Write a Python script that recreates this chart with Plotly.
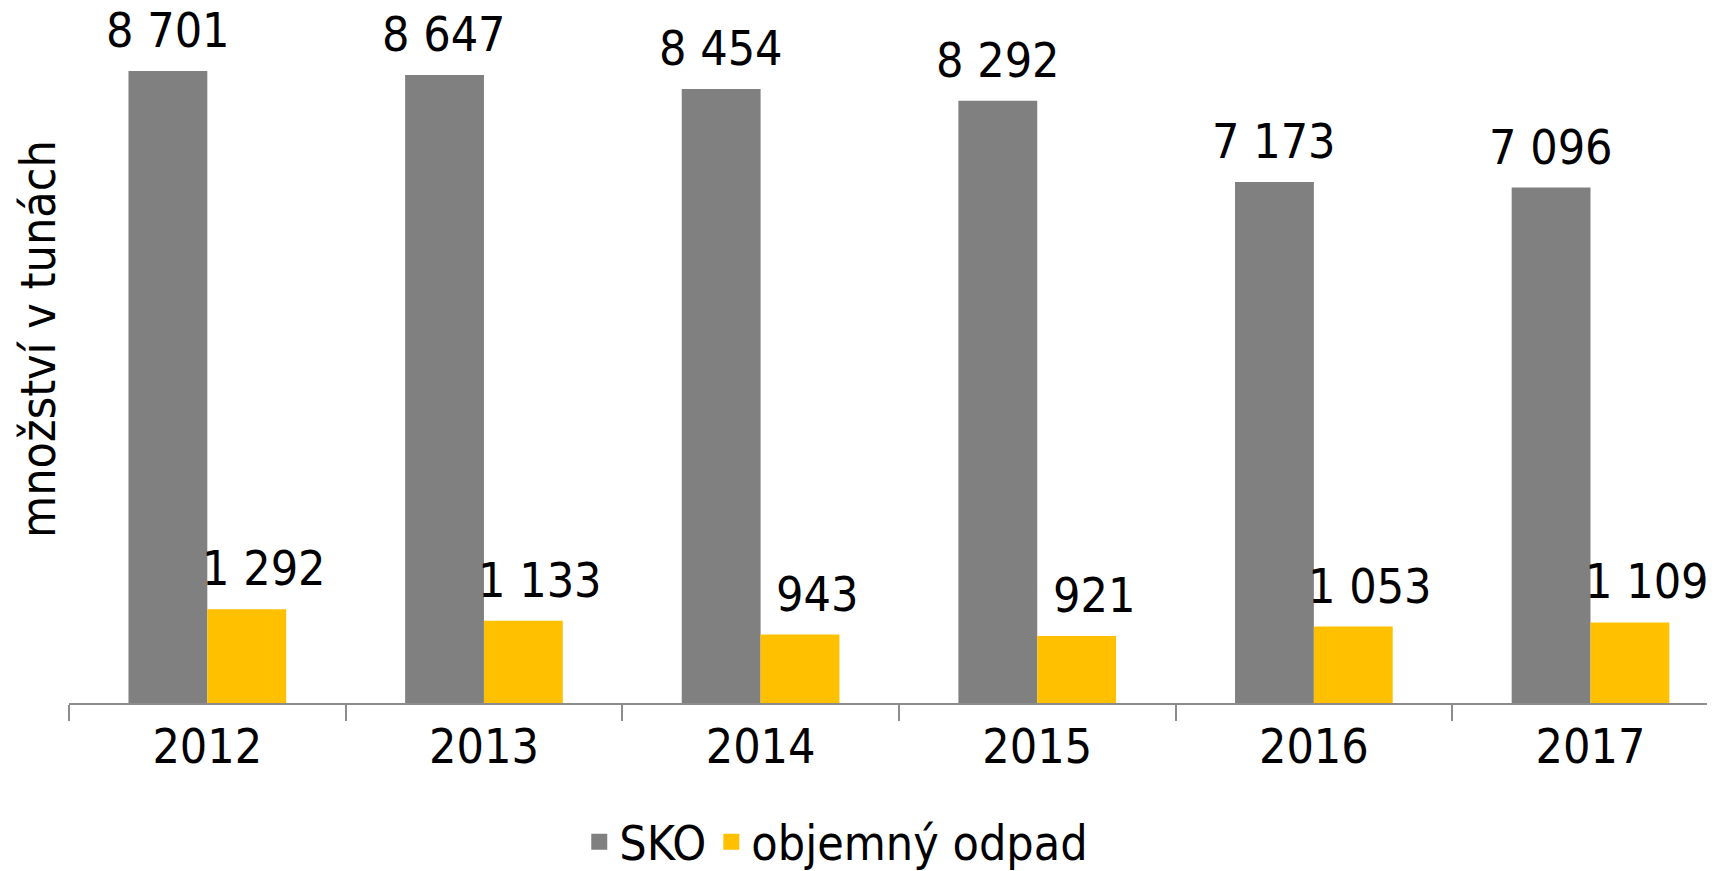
import plotly.graph_objects as go

years = ["2012", "2013", "2014", "2015", "2016", "2017"]
sko = [8701, 8647, 8454, 8292, 7173, 7096]
objemny = [1292, 1133, 943, 921, 1053, 1109]
sko_labels = ["8 701", "8 647", "8 454", "8 292", "7 173", "7 096"]
obj_labels = ["1 292", "1 133", "943", "921", "1 053", "1 109"]

FONT = "DejaVu Sans Condensed, DejaVu Sans, sans-serif"
GRAY = "#808080"
YELLOW = "#FFC000"

fig = go.Figure()
fig.add_trace(go.Bar(x=years, y=sko, name="SKO", marker=dict(color=GRAY, line=dict(width=0)),
                     showlegend=False))
fig.add_trace(go.Bar(x=years, y=objemny, name="objemný odpad", marker=dict(color=YELLOW, line=dict(width=0)),
                     showlegend=False))
# legend entries
fig.add_trace(go.Scatter(x=[None], y=[None], mode="markers", name="SKO",
                         marker=dict(symbol="square", size=24, color=GRAY)))
fig.add_trace(go.Scatter(x=[None], y=[None], mode="markers", name="objemný odpad",
                         marker=dict(symbol="square", size=24, color=YELLOW)))

annotations = []
for i, (v, t) in enumerate(zip(sko, sko_labels)):
    annotations.append(dict(x=i, y=v, xref="x", yref="y", text=t, showarrow=False,
                            xanchor="center", yanchor="bottom",
                            xshift=-39.5, yshift=11, font=dict(family=FONT, size=48, color="black")))
for i, (v, t) in enumerate(zip(objemny, obj_labels)):
    annotations.append(dict(x=i, y=v, xref="x", yref="y", text=t, showarrow=False,
                            xanchor="center", yanchor="bottom",
                            xshift=39.5 + 17, yshift=11, font=dict(family=FONT, size=48, color="black")))
annotations.append(dict(x=-0.0188, y=0.524, xref="paper", yref="paper", text="množství v tunách",
                        textangle=-90, showarrow=False, xanchor="center", yanchor="middle",
                        font=dict(family=FONT, size=48, color="black")))

fig.update_layout(
    width=1707, height=863,
    margin=dict(l=61, r=0, t=0, b=168, autoexpand=False),
    paper_bgcolor="white", plot_bgcolor="white",
    barmode="group", bargap=0.43, bargroupgap=0,
    font=dict(family=FONT, size=48, color="black"),
    annotations=annotations,
    legend=dict(orientation="h", x=0.31, xanchor="left", y=-0.2, yanchor="middle",
                font=dict(family=FONT, size=48), itemsizing="trace"),
    xaxis=dict(type="category", range=[-0.5, 5.45], showline=True, linecolor="#8c8c8c", linewidth=2,
               ticks="outside", tickson="boundaries", ticklen=16, tickcolor="#8c8c8c", tickwidth=2,
               tickfont=dict(family=FONT, size=48), showgrid=False, automargin=False),
    yaxis=dict(range=[0, 9568], showticklabels=False, showgrid=False, showline=False, zeroline=False,
               ticks="", automargin=False),
)

fig.write_html("out.html")
